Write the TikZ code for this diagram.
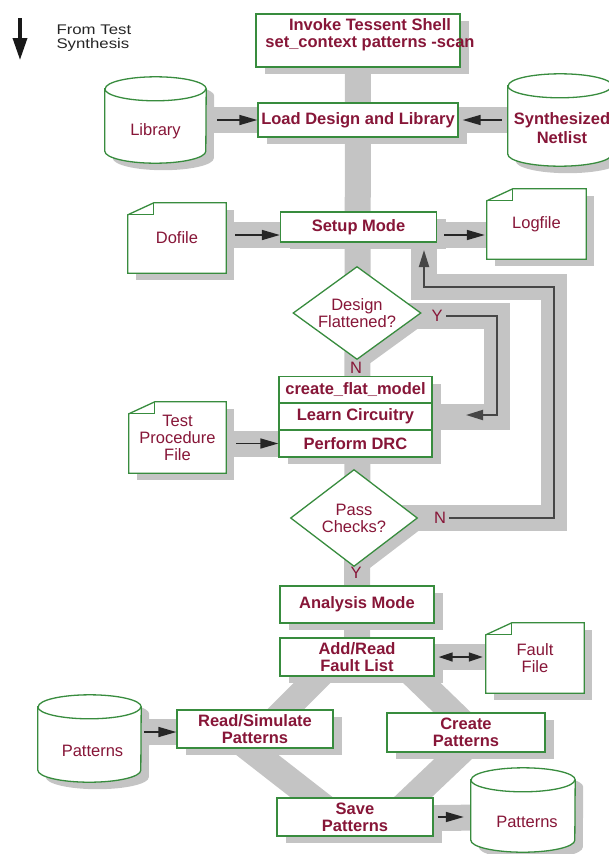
\documentclass[tikz,border=0pt]{standalone}
\usepackage{fontspec}
\setmainfont{Liberation Sans}
\newfontfamily\legendfont[FakeStretch=1.2]{Liberation Sans}
\usetikzlibrary{shapes.geometric,shadows,arrows.meta,calc,backgrounds}

\definecolor{boxgreen}{RGB}{56,140,62}
\definecolor{ink}{RGB}{135,22,56}
\definecolor{bandgray}{RGB}{196,196,196}
\definecolor{loopline}{RGB}{70,70,70}

\tikzset{
  every node/.style={font=\fontsize{16.5}{17}\selectfont},
  boxshadow/.style={drop shadow={shadow xshift=9pt,shadow yshift=-7pt,fill=bandgray,opacity=1}},
  proc/.style={rectangle,draw=boxgreen,line width=1.3pt,fill=white,boxshadow,
    text=ink,font=\bfseries\fontsize{16.5}{17}\selectfont,align=center,inner sep=0pt},
  proctext/.style={text=ink,font=\bfseries\fontsize{16.5}{17}\selectfont,align=center,inner sep=0pt},
  store/.style={rectangle,inner sep=0pt},
  storetext/.style={text=ink,align=center,inner sep=0pt},
  decide/.style={diamond,aspect=1.4,draw=boxgreen,line width=1.3pt,fill=white,boxshadow,
    text=ink,align=center,inner sep=0pt},
  memo/.style={rectangle,text=ink,align=center,inner sep=0pt},
  lab/.style={text=ink},
  bandline/.style={draw=bandgray,line width=26pt,line join=miter},
  arr/.style={-{Triangle[length=18pt,width=10pt]},line width=1.6pt,draw=black!85},
  dblarr/.style={{Triangle[length=14pt,width=9pt]}-{Triangle[length=14pt,width=9pt]},line width=1.6pt,draw=black!85},
  loop/.style={-{Triangle[length=17pt,width=10pt]},line width=2pt,draw=loopline,line join=miter},
}

% dog-eared document outline around a named node, with its shadow
\newcommand\memooutline[1]{%
  \fill[bandgray] ($(#1.north west)+(8,7)$) rectangle ($(#1.south east)+(8,7)$);
  \draw[boxgreen,line width=1.3pt,fill=white]
    ($(#1.north west)+(0,12)$) -- ($(#1.north west)+(26,0)$) -- (#1.north east)
    -- (#1.south east) -- (#1.south west) -- cycle;
  \draw[boxgreen,line width=1.3pt]
    ($(#1.north west)+(0,12)$) -- ($(#1.north west)+(26,12)$) -- ($(#1.north west)+(26,0)$);
}

% upright storage drum filling a named node box: #1 node, #2 half width
\newcommand\drumoutline[2]{%
  \fill[bandgray] ($(#1.north west)+(8,19)$) -- ($(#1.south west)+(8,-5)$)
    arc[start angle=180,end angle=360,x radius=#2pt,y radius=12pt]
    -- ($(#1.north east)+(8,19)$)
    arc[start angle=0,end angle=180,x radius=#2pt,y radius=12pt] -- cycle;
  \draw[boxgreen,line width=1.3pt,fill=white] ($(#1.north west)+(0,12)$) -- ($(#1.south west)+(0,-12)$)
    arc[start angle=180,end angle=360,x radius=#2pt,y radius=12pt]
    -- ($(#1.north east)+(0,12)$)
    arc[start angle=0,end angle=180,x radius=#2pt,y radius=12pt] -- cycle;
  \draw[boxgreen,line width=1.3pt] ($(#1.north west)+(0,12)$)
    arc[start angle=180,end angle=360,x radius=#2pt,y radius=12pt];
}

\begin{document}
\begin{tikzpicture}[x=1pt,y=-1pt]
\useasboundingbox (0,0) rectangle (609,854);

% legend
\coordinate (legtop) at (20,18);
\coordinate (legtip) at (20,60);
\draw[-{Triangle[length=22pt,width=14pt]},line width=3.5pt,draw=black!90] (legtop) -- (legtip);
\node[anchor=west,align=left,text=black!85,font=\legendfont\fontsize{14}{14}\selectfont] (legtxt) at (53,38) {From Test\\Synthesis};

% main flow
\node[proc,minimum width=204,minimum height=53] (invoke) at (358,40.5) {};
\node[proctext] (invoketxt) at (370,35) {Invoke Tessent Shell\\set\_context patterns -scan};
\node[proc,minimum width=200,minimum height=34] (load) at (358,120) {Load Design and Library};
\node[store,minimum width=101,minimum height=86] (library) at (155.5,120) {};
\node[storetext] (librarytxt) at ($(library.center)+(0,11)$) {Library};
\node[store,minimum width=104,minimum height=92] (netlist) at (560,120) {};
\node[storetext,font=\bfseries\fontsize{16.5}{18.5}\selectfont] (netlisttxt) at ($(netlist.center)+(2,8)$) {Synthesized\\Netlist};

\node[proc,minimum width=156,minimum height=30] (setup) at (358.5,227) {Setup Mode};
\node[memo,minimum width=98,minimum height=70] (dofile) at (177,238) {Dofile};
\node[memo,minimum width=99,minimum height=70] (logfile) at (536.5,224) {Logfile};

\node[decide,minimum width=128,minimum height=93] (flatq) at (357,313) {Design\\Flattened?};

\node[proc,minimum width=153,minimum height=26.5] (flat) at (355.5,390) {create\_flat\_model};
\node[proc,minimum width=153,minimum height=27] (learn) at (355.5,416.5) {Learn Circuitry};
\node[proc,minimum width=153,minimum height=27] (drc) at (355.5,443.5) {Perform DRC};
\node[memo,minimum width=97,minimum height=71] (tpf) at (177.5,437.5) {Test\\Procedure\\File};

\node[decide,minimum width=127,minimum height=97] (passq) at (354,518) {Pass\\Checks?};

\node[proc,minimum width=154,minimum height=37] (analysis) at (357,604.5) {Analysis Mode};
\node[proc,minimum width=154,minimum height=38] (addread) at (357,657) {Add/Read\\Fault List};
\node[memo,minimum width=98,minimum height=70] (fault) at (535,658) {Fault\\File};

\node[proc,minimum width=156,minimum height=38] (readsim) at (255,729) {Read/Simulate\\Patterns};
\node[proc,minimum width=158,minimum height=39] (create) at (466,732.5) {Create\\Patterns};
\node[proc,minimum width=156,minimum height=38] (save) at (355,817) {Save\\Patterns};
\node[store,minimum width=103,minimum height=87] (patin) at (89.5,738.5) {};
\node[storetext] (patintxt) at ($(patin.center)+(3,12)$) {Patterns};
\node[store,minimum width=104,minimum height=84] (patout) at (523,810) {};
\node[storetext] (patouttxt) at ($(patout.center)+(4,12)$) {Patterns};

% decision labels
\node[lab] (ylab) at (437,316) {Y};
\node[lab] (nlab) at (356,368) {N};
\node[lab] (nlab2) at (440,518) {N};
\node[lab] (ylab2) at (356,573) {Y};

% loop-back rails
\coordinate (rail) at (554,287);
\coordinate (upcol) at (424,287);
\coordinate (uptip) at (424,250);
\coordinate (yrail) at (497,316);
\coordinate (ytip) at (466,415);
\coordinate (sb) at ($(setup.center)+(0,8)$);
\coordinate (rs) at ($(readsim.center)+(0,3)$);

% grey flow bands, document and drum outlines
\begin{scope}[on background layer]
  \draw[bandline] (invoke.center) -- (addread.center);
  \draw[bandline] (library.center) -- (netlist.center);
  \draw[bandline] (dofile.center |- sb) -- (logfile.center |- sb);
  \draw[bandline] (tpf.center |- drc.center) -- (drc.center);
  \draw[bandline] (addread.center) -- (fault.center |- addread.center);
  \draw[bandline] (patin.center |- rs) -- (rs);
  \draw[bandline] ($(save.center)+(0,2)$) -- (patout.center |- save.center);
  \draw[bandline] (passq.center) -- (passq.center -| rail) -- (rail) -- (upcol) -- (upcol |- setup.center);
  \draw[bandline] (flatq.center |- yrail) -- (yrail) -- (yrail |- learn.center) -- (learn.center);
  \draw[bandline] ([xshift=-19]addread.center) -- ([xshift=11]readsim.center);
  \draw[bandline] ([xshift=-31]readsim.center) -- ([xshift=-18]save.center);
  \draw[bandline] ([xshift=38]addread.center) -- ([xshift=7]create.center);
  \draw[bandline] ([xshift=15]create.center) -- ([xshift=37]save.center);
  \memooutline{dofile}
  \memooutline{logfile}
  \memooutline{tpf}
  \memooutline{fault}
  \drumoutline{library}{50.5}
  \drumoutline{netlist}{52}
  \drumoutline{patin}{51.5}
  \drumoutline{patout}{52}
\end{scope}

% data arrows
\draw[arr] ([xshift=11]library.east) -- (load.west);
\draw[arr] ([xshift=-6]netlist.west) -- ([xshift=4]load.east);
\draw[arr] ([xshift=9]dofile.east |- sb) -- (setup.west |- sb);
\draw[arr] ([xshift=7]setup.east |- sb) -- ([xshift=-2]logfile.west |- sb);
\draw[arr] ([xshift=10]tpf.east |- drc.center) -- (drc.west);
\draw[dblarr] ([xshift=4]addread.east) -- ([xshift=-3]fault.west |- addread.east);
\draw[arr] ([xshift=3]patin.east |- rs) -- (readsim.west |- rs);
\draw[arr] ([xshift=4]save.east) -- ([xshift=-7]patout.west |- save.east);

% loop-back connectors
\draw[loop] (nlab2.east) -- (nlab2.east -| rail) -- (rail) -- (upcol) -- (uptip);
\draw[loop] (ylab.east) -- (yrail) -- (yrail |- ytip) -- (ytip);
\end{tikzpicture}
\end{document}
